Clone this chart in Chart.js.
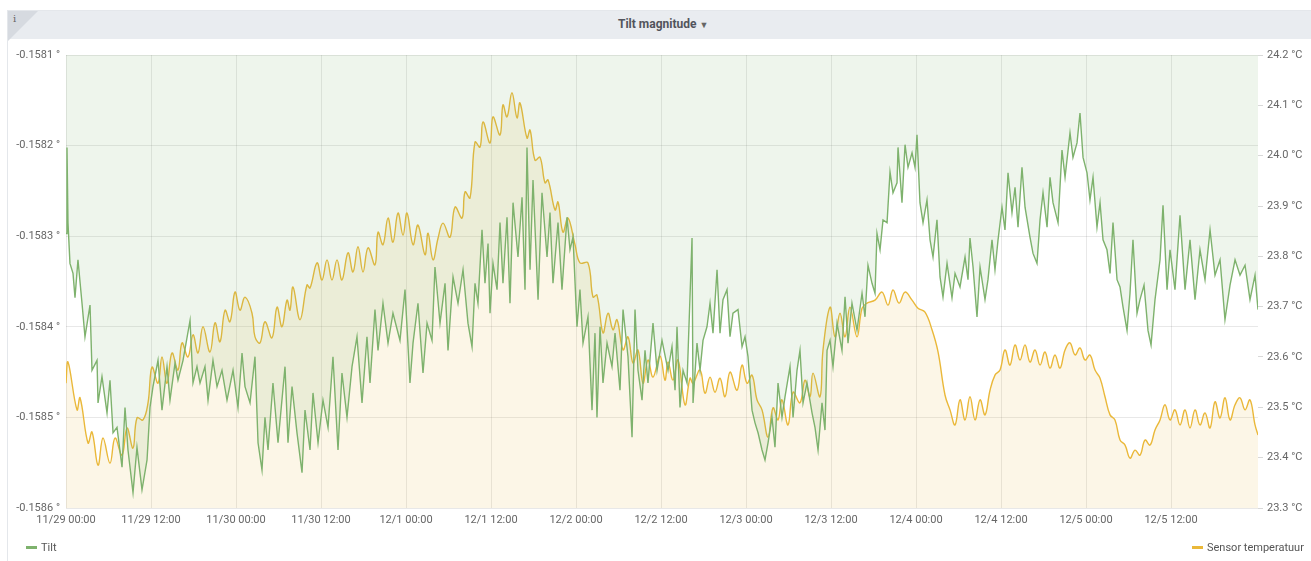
<!DOCTYPE html>
<html>
<head>
<meta charset="utf-8">
<title>Tilt magnitude</title>
<script src="https://cdn.jsdelivr.net/npm/chart.js@4.4.0/dist/chart.umd.min.js"></script>
<style>
    body { margin: 0; width: 1311px; height: 561px; background: #fff; overflow: hidden; position: relative; font-family: Roboto, "Noto Sans", sans-serif; }
    .panel { position: absolute; left: 7px; top: 10px; width: 1320px; height: 560px; border: 1px solid #e4e7eb; box-sizing: border-box; }
    .panelHeader { position: absolute; left: 0; top: 0; right: 0; height: 28px; background: #e9ecf0; }
    .corner { position: absolute; left: 0; top: 0; width: 0; height: 0; border-top: 30px solid #d6dae0; border-right: 30px solid transparent; }
    .info { position: absolute; left: 5px; top: 2px; font-size: 10px; color: #666; font-family: "DejaVu Serif", serif; }
    .panelTitle { position: absolute; left: 618px; top: 16px; font-size: 12px; font-weight: bold; color: #52545c; line-height: 16px; }
    .caret { font-size: 9px; color: #666; margin-left: 3px; }
    #ChartWrapper { position: absolute; left: 0; top: 0; width: 1311px; height: 561px; }
    .legendItem { position: absolute; top: 541px; font-size: 11px; color: #555; line-height: 14px; }
    .legendItem i { display: inline-block; width: 11px; height: 3px; vertical-align: middle; margin-right: 4px; margin-top: -2px; }
</style>
</head>
<body>
<div class="panel">
    <div class="panelHeader"></div>
    <div class="corner"></div>
    <div class="info">i</div>
</div>
<div class="panelTitle">Tilt magnitude<span class="caret">&#9660;</span></div>
<div id="ChartWrapper"><canvas id="Chart" width="1311" height="561"></canvas></div>
<div class="legendItem" style="left:26px"><i style="background:#7eb26d"></i>Tilt</div>
<div class="legendItem" style="left:1192px"><i style="background:#eab839"></i>Sensor temperatuur</div>

<script>
// часы от 11/29 00:00 и подписи оси X
var xTickHours = [0, 12, 24, 36, 48, 60, 72, 84, 96, 108, 120, 132, 144, 156];
var xTickLabels = ['11/29 00:00', '11/29 12:00', '11/30 00:00', '11/30 12:00', '12/1 00:00', '12/1 12:00', '12/2 00:00',
    '12/2 12:00', '12/3 00:00', '12/3 12:00', '12/4 00:00', '12/4 12:00', '12/5 00:00', '12/5 12:00'];
var xMaxHour = 168.28;

/**
 * Tilt (левая ось, градусы)*/
var tiltHours = [
    0, 0.14, 0.28, 0.56, 0.99, 1.27, 1.69, 2.26, 2.68, 3.39,
    3.67, 4.38, 4.52, 5.08, 5.79, 6.21, 6.64, 7.20, 7.91, 8.33,
    8.75, 9.46, 10.02, 10.73, 11.44, 11.86, 12.28, 12.99, 13.55, 14.26,
    14.68, 15.39, 15.81, 16.52, 17.51, 17.93, 18.49, 18.92, 19.62, 20.05,
    20.75, 21.32, 22.02, 22.73, 23.58, 24.28, 24.85, 25.27, 25.98, 26.68,
    27.11, 27.67, 28.09, 28.52, 29.22, 29.93, 30.92, 31.34, 31.91, 32.61,
    33.32, 33.74, 34.45, 34.87, 35.58, 36.28, 36.99, 37.69, 38.40, 38.96,
    39.67, 40.38, 41.08, 41.79, 42.49, 42.92, 43.62, 44.05, 44.75, 45.46,
    46.16, 47.15, 47.86, 48.56, 48.99, 49.69, 50.40, 50.97, 51.67, 52.09,
    52.80, 53.51, 53.93, 54.64, 55.34, 56.05, 56.75, 57.32, 57.74, 58.16,
    58.73, 59.15, 59.58, 59.86, 60.28, 60.85, 61.27, 61.69, 62.26, 62.68,
    63.11, 63.81, 64.38, 64.80, 65.08, 65.51, 65.93, 66.64, 67.20, 67.91,
    68.33, 68.75, 69.46, 70.02, 70.73, 71.15, 71.58, 72.14, 72.56, 72.99,
    73.69, 74.26, 74.68, 74.96, 75.39, 75.81, 76.38, 77.08, 77.51, 78.21,
    78.64, 79.34, 79.91, 80.33, 80.75, 81.32, 81.74, 82.16, 82.87, 83.44,
    84.14, 84.99, 85.55, 85.98, 86.26, 86.68, 87.11, 87.67, 88.38, 88.52,
    89.08, 89.51, 89.93, 90.49, 90.92, 91.34, 91.91, 92.33, 92.75, 93.32,
    93.74, 94.16, 94.87, 95.44, 95.86, 96.28, 96.85, 97.27, 97.70, 98.26,
    98.68, 99.11, 99.67, 100.09, 100.52, 101.08, 101.51, 102.21, 102.64, 103.20,
    103.62, 104.05, 104.61, 105.32, 105.74, 106.17, 106.73, 107.15, 107.44, 107.86,
    108.28, 108.85, 109.55, 109.98, 110.40, 110.96, 111.67, 112.38, 112.80, 113.22,
    113.79, 114.21, 114.49, 114.92, 115.34, 115.91, 116.33, 116.75, 117.32, 117.46,
    118.02, 118.45, 118.87, 119.44, 119.86, 120.14, 120.56, 120.99, 121.55, 121.98,
    122.40, 122.96, 123.39, 123.81, 124.38, 125.08, 125.51, 126.21, 126.92, 127.34,
    127.62, 128.05, 128.61, 129.04, 129.74, 130.16, 130.73, 131.15, 131.58, 132.14,
    132.56, 132.99, 133.55, 133.98, 134.40, 134.96, 135.39, 136.09, 136.52, 137.08,
    137.51, 137.93, 138.50, 138.92, 139.34, 140.05, 140.61, 141.04, 141.74, 142.16,
    142.73, 143.15, 143.58, 144.14, 144.56, 144.99, 145.55, 145.98, 146.40, 146.96,
    147.39, 147.81, 148.38, 148.80, 149.22, 149.79, 150.21, 150.63, 151.20, 151.62,
    152.19, 152.75, 153.18, 153.74, 154.45, 154.87, 155.44, 155.86, 156.56, 157.27,
    157.98, 158.68, 159.39, 160.09, 160.80, 161.51, 162.21, 162.92, 163.62, 164.33,
    165.04, 165.74, 166.45, 167.15, 167.86, 168.28
];
var tiltValues = [
    -0.158297, -0.158202, -0.158285, -0.158330, -0.158341, -0.158368, -0.158326, -0.158374, -0.158411, -0.158376,
    -0.158448, -0.158437, -0.158484, -0.158455, -0.158495, -0.158459, -0.158517, -0.158511, -0.158555, -0.158489,
    -0.158536, -0.158583, -0.158533, -0.158580, -0.158547, -0.158489, -0.158466, -0.158437, -0.158492, -0.158444,
    -0.158481, -0.158440, -0.158459, -0.158437, -0.158393, -0.158462, -0.158444, -0.158462, -0.158444, -0.158481,
    -0.158437, -0.158466, -0.158448, -0.158481, -0.158448, -0.158489, -0.158429, -0.158466, -0.158484, -0.158433,
    -0.158528, -0.158558, -0.158500, -0.158536, -0.158462, -0.158528, -0.158444, -0.158528, -0.158466, -0.158517,
    -0.158561, -0.158492, -0.158536, -0.158473, -0.158528, -0.158481, -0.158511, -0.158433, -0.158536, -0.158451,
    -0.158500, -0.158444, -0.158411, -0.158484, -0.158411, -0.158462, -0.158381, -0.158426, -0.158374, -0.158418,
    -0.158385, -0.158415, -0.158359, -0.158462, -0.158418, -0.158374, -0.158451, -0.158396, -0.158415, -0.158334,
    -0.158396, -0.158352, -0.158426, -0.158345, -0.158374, -0.158337, -0.158396, -0.158422, -0.158352, -0.158374,
    -0.158293, -0.158352, -0.158308, -0.158385, -0.158330, -0.158359, -0.158285, -0.158352, -0.158279, -0.158374,
    -0.158263, -0.158323, -0.158257, -0.158359, -0.158202, -0.158337, -0.158238, -0.158370, -0.158252, -0.158323,
    -0.158274, -0.158352, -0.158285, -0.158359, -0.158279, -0.158315, -0.158301, -0.158400, -0.158359, -0.158418,
    -0.158389, -0.158492, -0.158407, -0.158500, -0.158400, -0.158462, -0.158418, -0.158444, -0.158407, -0.158470,
    -0.158381, -0.158433, -0.158522, -0.158381, -0.158448, -0.158481, -0.158426, -0.158462, -0.158396, -0.158448,
    -0.158415, -0.158448, -0.158422, -0.158470, -0.158400, -0.158489, -0.158448, -0.158462, -0.158302, -0.158484,
    -0.158418, -0.158448, -0.158415, -0.158400, -0.158374, -0.158407, -0.158337, -0.158407, -0.158370, -0.158359,
    -0.158411, -0.158385, -0.158381, -0.158422, -0.158411, -0.158433, -0.158492, -0.158506, -0.158517, -0.158536,
    -0.158547, -0.158528, -0.158500, -0.158533, -0.158462, -0.158500, -0.158477, -0.158444, -0.158500, -0.158448,
    -0.158426, -0.158484, -0.158462, -0.158495, -0.158511, -0.158536, -0.158484, -0.158514, -0.158426, -0.158415,
    -0.158444, -0.158396, -0.158426, -0.158367, -0.158418, -0.158374, -0.158404, -0.158363, -0.158389, -0.158332,
    -0.158352, -0.158363, -0.158297, -0.158315, -0.158282, -0.158285, -0.158229, -0.158252, -0.158241, -0.158202,
    -0.158263, -0.158199, -0.158224, -0.158208, -0.158224, -0.158188, -0.158263, -0.158285, -0.158260, -0.158304,
    -0.158323, -0.158282, -0.158345, -0.158367, -0.158330, -0.158368, -0.158341, -0.158356, -0.158323, -0.158348,
    -0.158302, -0.158334, -0.158389, -0.158334, -0.158370, -0.158348, -0.158304, -0.158337, -0.158304, -0.158268,
    -0.158293, -0.158230, -0.158274, -0.158246, -0.158290, -0.158224, -0.158268, -0.158301, -0.158319, -0.158330,
    -0.158282, -0.158252, -0.158290, -0.158235, -0.158263, -0.158285, -0.158205, -0.158235, -0.158186, -0.158213,
    -0.158197, -0.158164, -0.158213, -0.158230, -0.158260, -0.158235, -0.158290, -0.158263, -0.158304, -0.158315,
    -0.158341, -0.158285, -0.158348, -0.158356, -0.158378, -0.158404, -0.158363, -0.158304, -0.158385, -0.158370,
    -0.158354, -0.158404, -0.158420, -0.158370, -0.158326, -0.158266, -0.158359, -0.158315, -0.158359, -0.158277,
    -0.158359, -0.158304, -0.158370, -0.158315, -0.158348, -0.158293, -0.158343, -0.158326, -0.158392, -0.158354,
    -0.158326, -0.158343, -0.158332, -0.158370, -0.158343, -0.158381
];

/**
 * Sensor temperatuur (правая ось, °C)*/
var tempHours = [
    0, 0.28, 1.55, 1.98, 3.11, 3.67, 4.52, 5.22, 6.21, 6.92,
    7.91, 8.61, 9.46, 10.02, 10.87, 11.58, 12.14, 12.99, 13.55, 14.26,
    14.96, 15.81, 16.38, 17.22, 17.93, 18.64, 19.34, 20.33, 21.04, 21.74,
    22.45, 23.15, 23.86, 24.56, 25.27, 26.26, 26.68, 27.39, 28.09, 29.08,
    29.79, 30.49, 31.20, 31.62, 32.05, 33.04, 34.02, 34.45, 35.44, 36.14,
    36.85, 37.55, 38.26, 38.96, 39.81, 40.52, 41.22, 41.93, 42.64, 43.62,
    44.05, 44.75, 45.46, 46.16, 46.87, 47.58, 48.14, 48.99, 49.69, 50.68,
    51.11, 51.81, 52.52, 53.22, 54.21, 54.92, 55.91, 56.33, 57.04, 57.74,
    58.45, 58.87, 59.86, 60.28, 61.27, 61.69, 62.26, 62.96, 63.67, 64.09,
    65.08, 65.51, 66.21, 66.92, 67.62, 68.05, 69.04, 69.46, 70.16, 70.87,
    71.86, 72.56, 73.69, 74.40, 74.96, 75.81, 76.52, 77.22, 77.79, 78.64,
    79.34, 80.05, 80.75, 81.46, 82.16, 82.87, 83.86, 84.56, 84.99, 85.69,
    86.40, 87.39, 88.09, 88.52, 89.51, 90.21, 90.92, 91.62, 92.33, 93.04,
    93.74, 94.73, 95.44, 96.14, 96.85, 97.55, 98.26, 99.11, 99.81, 100.52,
    101.08, 101.93, 102.64, 103.62, 104.33, 105.04, 105.46, 106.45, 106.87, 107.86,
    108.56, 109.27, 109.98, 110.68, 111.67, 112.38, 113.08, 114.21, 115.20, 116.05,
    116.75, 117.60, 118.45, 119.44, 120.28, 121.27, 122.26, 123.11, 124.10, 124.80,
    125.51, 126.21, 126.92, 127.62, 128.33, 129.04, 129.74, 130.45, 131.15, 131.86,
    132.56, 133.27, 133.98, 134.68, 135.39, 136.09, 136.80, 137.51, 138.21, 138.92,
    139.62, 140.33, 141.04, 141.74, 142.45, 143.15, 143.86, 144.56, 145.27, 145.98,
    146.68, 147.39, 148.09, 148.80, 149.51, 150.21, 150.92, 151.62, 152.33, 153.04,
    153.74, 154.45, 155.15, 155.86, 156.56, 157.27, 157.98, 158.68, 159.39, 160.09,
    160.80, 161.51, 162.21, 162.92, 163.62, 164.33, 165.04, 165.74, 166.45, 167.15,
    167.86, 168.28
];
var tempValues = [
    23.548, 23.590, 23.495, 23.519, 23.429, 23.451, 23.385, 23.439, 23.389, 23.439,
    23.405, 23.459, 23.419, 23.479, 23.475, 23.509, 23.580, 23.548, 23.600, 23.548,
    23.608, 23.574, 23.628, 23.600, 23.644, 23.608, 23.660, 23.610, 23.668, 23.630,
    23.693, 23.670, 23.729, 23.693, 23.719, 23.687, 23.640, 23.628, 23.670, 23.638,
    23.699, 23.660, 23.713, 23.693, 23.739, 23.674, 23.743, 23.737, 23.787, 23.753,
    23.793, 23.753, 23.793, 23.753, 23.807, 23.769, 23.819, 23.769, 23.817, 23.783,
    23.848, 23.823, 23.876, 23.828, 23.886, 23.842, 23.886, 23.823, 23.862, 23.803,
    23.846, 23.793, 23.836, 23.866, 23.838, 23.898, 23.876, 23.928, 23.916, 24.027,
    24.017, 24.067, 24.025, 24.077, 24.041, 24.101, 24.077, 24.125, 24.075, 24.105,
    24.035, 24.051, 23.991, 23.997, 23.946, 23.952, 23.892, 23.908, 23.848, 23.876,
    23.823, 23.787, 23.787, 23.719, 23.723, 23.648, 23.687, 23.654, 23.674, 23.614,
    23.640, 23.588, 23.614, 23.548, 23.594, 23.560, 23.602, 23.554, 23.590, 23.554,
    23.594, 23.505, 23.558, 23.548, 23.574, 23.528, 23.560, 23.530, 23.558, 23.521,
    23.570, 23.534, 23.584, 23.548, 23.564, 23.515, 23.495, 23.441, 23.499, 23.475,
    23.515, 23.465, 23.530, 23.509, 23.554, 23.521, 23.568, 23.521, 23.614, 23.699,
    23.640, 23.687, 23.640, 23.699, 23.640, 23.697, 23.707, 23.713, 23.729, 23.703,
    23.733, 23.707, 23.729, 23.713, 23.697, 23.689, 23.654, 23.610, 23.524, 23.495,
    23.465, 23.515, 23.475, 23.521, 23.475, 23.515, 23.485, 23.534, 23.564, 23.574,
    23.614, 23.584, 23.624, 23.594, 23.624, 23.590, 23.614, 23.584, 23.610, 23.578,
    23.604, 23.578, 23.614, 23.628, 23.604, 23.618, 23.594, 23.604, 23.574, 23.558,
    23.521, 23.485, 23.475, 23.435, 23.425, 23.399, 23.415, 23.405, 23.435, 23.425,
    23.455, 23.475, 23.505, 23.475, 23.495, 23.465, 23.495, 23.459, 23.495, 23.465,
    23.489, 23.459, 23.511, 23.479, 23.519, 23.475, 23.505, 23.519, 23.495, 23.515,
    23.465, 23.445
];

var myChart;

document.addEventListener("DOMContentLoaded", letsgo);

/**
 * собирает точки {x, y} из двух массивов*/
function makePoints(hours, values) {
    var points = [];
    for (var i = 0; i < hours.length; i++) {
        points.push({ x: hours[i], y: values[i] });
    }
    return points;
}

function letsgo() {
    var tickFont = { family: 'Roboto, "Noto Sans", sans-serif', size: 11 };
    var gridColor = 'rgba(0,0,0,0.09)';

    const data = {
        datasets: [{
            label: 'Tilt',
            data: makePoints(tiltHours, tiltValues),
            yAxisID: 'y',
            borderColor: '#7eb26d',
            backgroundColor: 'rgba(126,178,109,0.13)',
            borderWidth: 1.4,
            pointRadius: 0,
            tension: 0,
            fill: 'end'
        }, {
            label: 'Sensor temperatuur',
            data: makePoints(tempHours, tempValues),
            yAxisID: 'y1',
            borderColor: '#eab839',
            backgroundColor: 'rgba(234,184,57,0.12)',
            borderWidth: 1.4,
            pointRadius: 0,
            tension: 0.4,
            fill: 'start'
        }]
    };

    const config = {
        type: 'line',
        data: data,
        options: {
            responsive: false,
            animation: false,
            layout: { padding: { top: 55, bottom: 23, left: 0, right: 0 } },
            plugins: {
                legend: { display: false },
                tooltip: { enabled: false }
            },
            scales: {
                x: {
                    type: 'linear',
                    min: 0,
                    max: xMaxHour,
                    afterBuildTicks: function (scale) {
                        scale.ticks = xTickHours.map(function (h) { return { value: h }; });
                    },
                    afterFit: function (scale) { scale.height = 30; },
                    ticks: {
                        font: tickFont,
                        color: '#666',
                        padding: 6,
                        maxRotation: 0,
                        autoSkip: false,
                        callback: function (value) {
                            var idx = xTickHours.indexOf(value);
                            return idx >= 0 ? xTickLabels[idx] : '';
                        }
                    },
                    grid: { color: gridColor, drawTicks: false },
                    border: { display: false }
                },
                y: {
                    position: 'left',
                    min: -0.1586,
                    max: -0.1581,
                    afterFit: function (scale) { scale.width = 66; },
                    ticks: {
                        stepSize: 0.0001,
                        font: tickFont,
                        color: '#666',
                        padding: 6,
                        callback: function (value) { return value.toFixed(4) + ' °'; }
                    },
                    grid: { color: gridColor, drawTicks: false },
                    border: { display: false }
                },
                y1: {
                    position: 'right',
                    min: 23.3,
                    max: 24.2,
                    afterFit: function (scale) { scale.width = 53; },
                    ticks: {
                        stepSize: 0.1,
                        font: tickFont,
                        color: '#666',
                        padding: 4,
                        callback: function (value) { return value.toFixed(1) + ' °C'; }
                    },
                    grid: { drawOnChartArea: false, drawTicks: true, tickLength: 5, color: '#d8d8d8' },
                    border: { display: false }
                }
            }
        }
    };

    var canvas = document.getElementById('Chart');
    myChart = new Chart(canvas, config);
}
</script>
</body>
</html>
